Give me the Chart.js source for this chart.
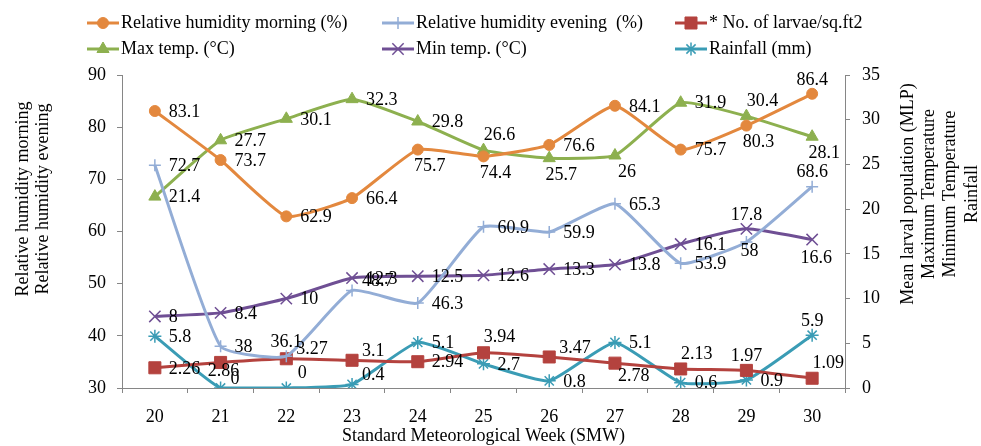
<!DOCTYPE html>
<html>
<head>
<meta charset="utf-8">
<script src="https://cdn.jsdelivr.net/npm/chart.js"></script>
<style>
  html, body { margin: 0; padding: 0; background: #fff; }
  #wrap { width: 981px; height: 446px; }
</style>
</head>
<body>
<div id="wrap"><canvas id="chart" width="981" height="446"></canvas></div>
<script>
// Data
const weeks = ['20', '21', '22', '23', '24', '25', '26', '27', '28', '29', '30'];
const rhMorning = [83.1, 73.7, 62.9, 66.4, 75.7, 74.4, 76.6, 84.1, 75.7, 80.3, 86.4];
const rhEvening = [72.7, 38, 36.1, 48.7, 46.3, 60.9, 59.9, 65.3, 53.9, 58, 68.6];
const larvae = [2.26, 2.86, 3.27, 3.1, 2.94, 3.94, 3.47, 2.78, 2.13, 1.97, 1.09];
const maxTemp = [21.4, 27.7, 30.1, 32.3, 29.8, 26.6, 25.7, 26, 31.9, 30.4, 28.1];
const minTemp = [8, 8.4, 10, 12.3, 12.5, 12.6, 13.3, 13.8, 16.1, 17.8, 16.6];
const rainfall = [5.8, 0, 0, 0.4, 5.1, 2.7, 0.8, 5.1, 0.6, 0.9, 5.9];

const leftTicks = [30, 40, 50, 60, 70, 80, 90];
const rightTicks = [0, 5, 10, 15, 20, 25, 30, 35];

// where each value label sits relative to its point
const placeMorning = ['r', 'r', 'r', 'r', 'br', 'br', 'r', 'r', 'r', 'br', 'a'];
const placeEvening = ['r', 'r', 'a', 'ra', 'r', 'r', 'r', 'r', 'r', 'bs', 'a'];
const placeLarvae = ['r', 'bs', 'ra', 'ra', 'r', 'ar', 'ra', 'rb', 'ar', 'a', 'ar'];
const placeMax = ['r', 'r', 'r', 'r', 'r', 'ar', 'br', 'br', 'r', 'ar', 'br'];
const placeMin = ['r', 'r', 'r', 'r', 'r', 'r', 'r', 'r', 'r', 'a', 'b'];
const placeRain = ['r', 'ra', 'ar', 'ra', 'r', 'r', 'r', 'r', 'r', 'r', 'a'];

const PLACES = {
  r:  { align: 'left',   dx: 14, dy: 1 },
  ra: { align: 'left',   dx: 10, dy: -9 },
  rb: { align: 'left',   dx: 3,  dy: 13 },
  a:  { align: 'center', dx: 0,  dy: -14 },
  ar: { align: 'center', dx: 16, dy: -15 },
  br: { align: 'center', dx: 12, dy: 17 },
  b:  { align: 'center', dx: 4,  dy: 19 },
  bs: { align: 'center', dx: 3,  dy: 9 }
};

const FONT = "'Liberation Serif', 'Times New Roman', serif";
const TXT = 18;
const AXIS_GREY = '#868686';

function series(label, data, color, style, radius, axis, places) {
  const stroke = style === 'cross' || style === 'crossRot' || style === 'star';
  return {
    label, data, yAxisID: axis, places,
    borderColor: color,
    backgroundColor: color,
    borderWidth: 3,
    pointStyle: style,
    pointRadius: radius,
    pointHoverRadius: radius,
    pointBorderWidth: stroke ? 1.5 : 1,
    pointBackgroundColor: color,
    pointBorderColor: color,
    tension: 0.15,
    fill: false
  };
}

const datasets = [
  series('Relative humidity morning (%)', rhMorning, '#E3883E', 'circle', 5.5, 'yL', placeMorning),
  series('Relative humidity evening  (%)', rhEvening, '#93ADD6', 'cross', 6, 'yL', placeEvening),
  series('* No. of larvae/sq.ft2', larvae, '#B4423E', 'rect', 8.5, 'yR', placeLarvae),
  series('Max temp. (°C)', maxTemp, '#8DB04F', 'triangle', 7, 'yR', placeMax),
  series('Min temp. (°C)', minTemp, '#6F4F94', 'crossRot', 8, 'yR', placeMin),
  series('Rainfall (mm)', rainfall, '#3A9CB5', 'star', 6.5, 'yR', placeRain)
];

// value labels next to each point
const valueLabels = {
  id: 'valueLabels',
  afterDatasetsDraw(chart) {
    const ctx = chart.ctx;
    ctx.save();
    ctx.font = TXT + 'px ' + FONT;
    ctx.fillStyle = '#000';
    ctx.textBaseline = 'middle';
    chart.data.datasets.forEach((ds, i) => {
      chart.getDatasetMeta(i).data.forEach((pt, j) => {
        const p = PLACES[ds.places[j]] || PLACES.r;
        ctx.textAlign = p.align;
        ctx.fillText(String(ds.data[j]), pt.x + p.dx, pt.y + p.dy);
      });
    });
    ctx.restore();
  }
};

// legend in three columns and axis titles
const legendCols = [87, 382, 675];
const legendRows = [23, 49];

const extras = {
  id: 'extras',
  afterDraw(chart) {
    const ctx = chart.ctx;
    const area = chart.chartArea;
    ctx.save();
    ctx.font = TXT + 'px ' + FONT;
    ctx.fillStyle = '#000';
    ctx.textBaseline = 'middle';

    chart.data.datasets.forEach((ds, i) => {
      const x = legendCols[i % 3];
      const y = legendRows[Math.floor(i / 3)];
      ctx.strokeStyle = ds.borderColor;
      ctx.lineWidth = 3;
      ctx.beginPath();
      ctx.moveTo(x, y);
      ctx.lineTo(x + 32, y);
      ctx.stroke();
      ctx.fillStyle = ds.backgroundColor;
      ctx.strokeStyle = ds.borderColor;
      ctx.lineWidth = ds.pointBorderWidth;
      Chart.helpers.drawPoint(ctx, {
        pointStyle: ds.pointStyle, radius: ds.pointRadius, rotation: 0, borderWidth: ds.pointBorderWidth
      }, x + 16, y);
      ctx.fillStyle = '#000';
      ctx.textAlign = 'left';
      ctx.fillText(ds.label, x + 34, y);
    });

    // x title
    ctx.textAlign = 'center';
    ctx.fillText('Standard Meteorological Week (SMW)', (area.left + area.right) / 2, 436);

    // left title
    ctx.save();
    ctx.translate(23, 199);
    ctx.rotate(-Math.PI / 2);
    ctx.fillText('Relative humidity morning', 0, 0);
    ctx.fillText('Relative humidity evening', 0, 20);
    ctx.restore();

    // right title
    const rightLines = ['Mean larval population (MLP)', 'Maximum Temperature', 'Minimum Temperature', 'Rainfall'];
    ctx.save();
    ctx.translate(908, 194);
    ctx.rotate(-Math.PI / 2);
    rightLines.forEach((t, k) => ctx.fillText(t, 0, k * 21.3));
    ctx.restore();

    ctx.restore();
  }
};

Chart.defaults.font.family = FONT;
Chart.defaults.font.size = TXT;
Chart.defaults.color = '#000';

new Chart(document.getElementById('chart'), {
  type: 'line',
  data: { labels: weeks, datasets },
  options: {
    responsive: false,
    animation: false,
    layout: { padding: { top: 75, left: 0, right: 0, bottom: 0 } },
    plugins: {
      legend: { display: false },
      tooltip: { enabled: false }
    },
    scales: {
      x: {
        offset: true,
        grid: { offset: true, drawOnChartArea: false, drawTicks: true, tickLength: 5, color: AXIS_GREY },
        border: { color: AXIS_GREY, width: 1 },
        ticks: { padding: 13, maxRotation: 0 },
        afterFit(scale) { scale.height = 58; }
      },
      yL: {
        position: 'left',
        min: leftTicks[0],
        max: leftTicks[leftTicks.length - 1],
        afterBuildTicks(scale) { scale.ticks = leftTicks.map(v => ({ value: v })); },
        grid: { drawOnChartArea: false, drawTicks: true, tickLength: 5, color: AXIS_GREY },
        border: { color: AXIS_GREY, width: 1 },
        ticks: { padding: 11 },
        afterFit(scale) { scale.width = 122; }
      },
      yR: {
        position: 'right',
        min: rightTicks[0],
        max: rightTicks[rightTicks.length - 1],
        afterBuildTicks(scale) { scale.ticks = rightTicks.map(v => ({ value: v })); },
        grid: { drawOnChartArea: false, drawTicks: true, tickLength: 5, color: AXIS_GREY },
        border: { color: AXIS_GREY, width: 1 },
        ticks: { padding: 12 },
        afterFit(scale) { scale.width = 136; }
      }
    }
  },
  plugins: [valueLabels, extras]
});
</script>
</body>
</html>
